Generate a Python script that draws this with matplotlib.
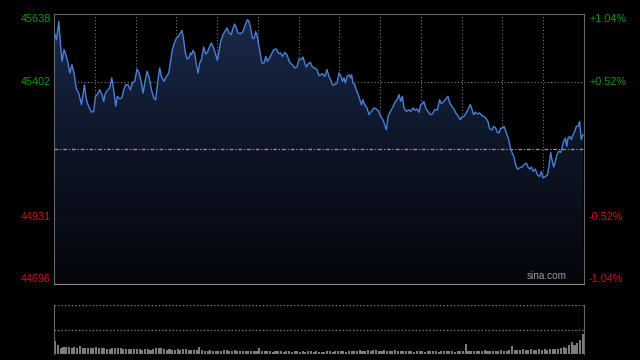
import numpy as np
import matplotlib
matplotlib.use("Agg")
import matplotlib.pyplot as plt
from matplotlib.patches import Polygon
from matplotlib.colors import LinearSegmentedColormap
from matplotlib.transforms import blended_transform_factory

plt.rcParams['font.family'] = ['Liberation Sans', 'DejaVu Sans']

# intraday index, minutes after open (390 min session)
minutes = [0.3, 1.8, 3.5, 4.9, 5.9, 7.4, 9.1, 10.3, 11.6, 13.2, 14.7, 16.5, 18.2, 20.2, 22.4, 23.8, 25.5, 27.5,
           29.2, 30.5, 31.9, 33.6, 35.3, 36.6, 37.8, 39.7, 41.0, 42.5, 43.9, 45.4, 46.6, 48.3, 50.0, 51.3, 52.8,
           54.4, 56.2, 57.7, 59.4, 61.1, 62.5, 64.3, 65.5, 67.3, 68.4, 69.9, 71.7, 73.4, 74.8, 76.5, 77.8, 79.0,
           80.9, 82.7, 84.4, 85.6, 87.1, 88.6, 90.1, 91.5, 93.0, 94.2, 95.4, 96.7, 97.9, 99.3, 100.4, 101.3,
           102.3, 103.5, 104.8, 106.0, 107.2, 108.5, 110.1, 111.6, 112.9, 114.1, 115.8, 117.5, 119.0, 120.2,
           121.4, 122.7, 124.4, 126.1, 127.3, 128.8, 130.5, 131.7, 133.0, 134.2, 135.4, 137.2, 139.1, 140.8,
           142.3, 143.5, 144.7, 146.0, 147.2, 148.4, 149.7, 150.6, 151.9, 153.0, 154.5, 155.8, 157.0, 158.7,
           160.4, 161.9, 163.6, 165.3, 166.8, 168.1, 169.8, 171.4, 173.4, 175.4, 177.1, 178.8, 180.3, 182.0,
           183.2, 184.5, 185.7, 187.2, 188.7, 190.1, 191.8, 193.5, 195.0, 196.2, 197.5, 199.2, 200.9, 202.3,
           203.6, 204.8, 206.5, 208.2, 209.7, 211.0, 212.2, 213.4, 214.4, 215.6, 217.1, 218.3, 219.0, 220.0,
           221.3, 222.5, 223.7, 224.9, 226.2, 227.4, 228.6, 230.3, 231.8, 233.5, 235.5, 237.2, 238.9, 240.4,
           242.1, 243.3, 244.6, 245.8, 247.5, 249.0, 250.7, 252.4, 253.9, 255.1, 256.4, 257.5, 259.3, 261.0,
           262.5, 264.2, 265.6, 267.1, 268.6, 269.8, 271.1, 272.2, 273.5, 275.2, 277.0, 278.4, 280.1, 282.1,
           283.8, 285.0, 286.2, 288.0, 289.9, 291.2, 292.8, 294.3, 295.6, 297.3, 299.0, 300.2, 301.7, 303.4,
           305.1, 306.4, 307.6, 308.8, 310.1, 311.5, 313.2, 314.9, 316.4, 318.2, 319.3, 320.6, 322.3, 323.7,
           325.0, 326.2, 327.4, 328.7, 329.9, 331.1, 332.1, 333.3, 334.6, 335.8, 337.3, 338.5, 339.7, 341.0,
           342.7, 344.4, 345.8, 347.6, 348.8, 350.0, 351.3, 352.7, 354.2, 355.7, 357.4, 358.6, 359.8, 361.6,
           363.1, 364.2, 365.5, 366.4, 367.7, 368.9, 370.1, 371.3, 372.8, 374.1, 375.0, 376.3, 377.3, 378.2,
           379.5, 380.7, 381.9, 383.1, 384.4, 385.6, 386.8, 388.0, 389.2]

prices = [45572, 45548, 45612, 45525, 45473, 45514, 45490, 45467, 45432, 45461, 45432, 45376, 45362, 45322, 45391,
          45339, 45316, 45296, 45298, 45351, 45357, 45374, 45357, 45333, 45362, 45374, 45380, 45415, 45374, 45316,
          45351, 45342, 45345, 45374, 45391, 45391, 45374, 45397, 45403, 45446, 45434, 45399, 45362, 45409, 45438,
          45420, 45374, 45345, 45339, 45409, 45450, 45420, 45403, 45420, 45432, 45467, 45514, 45537, 45554, 45560,
          45572, 45581, 45548, 45502, 45481, 45485, 45502, 45496, 45511, 45502, 45461, 45432, 45467, 45479, 45523,
          45499, 45504, 45519, 45537, 45519, 45496, 45476, 45508, 45543, 45566, 45580, 45589, 45572, 45566, 45589,
          45603, 45589, 45572, 45569, 45577, 45601, 45618, 45612, 45589, 45554, 45552, 45577, 45558, 45531, 45496,
          45467, 45467, 45490, 45473, 45485, 45502, 45514, 45516, 45500, 45502, 45490, 45504, 45496, 45469, 45461,
          45450, 45453, 45481, 45479, 45488, 45467, 45453, 45465, 45469, 45453, 45450, 45444, 45423, 45426, 45430,
          45420, 45444, 45420, 45409, 45391, 45391, 45397, 45432, 45423, 45403, 45415, 45397, 45420, 45426, 45415,
          45426, 45397, 45391, 45372, 45360, 45342, 45322, 45339, 45322, 45310, 45287, 45298, 45310, 45307, 45298,
          45281, 45269, 45252, 45234, 45281, 45298, 45310, 45328, 45339, 45357, 45333, 45351, 45310, 45298, 45304,
          45298, 45310, 45302, 45307, 45295, 45322, 45325, 45333, 45310, 45298, 45287, 45289, 45304, 45304, 45339,
          45325, 45330, 45339, 45351, 45328, 45316, 45307, 45293, 45283, 45269, 45279, 45281, 45293, 45310, 45322,
          45304, 45287, 45296, 45289, 45293, 45283, 45281, 45272, 45263, 45237, 45234, 45246, 45240, 45225, 45223,
          45240, 45240, 45246, 45234, 45217, 45200, 45171, 45151, 45139, 45112, 45097, 45101, 45104, 45112, 45118,
          45104, 45097, 45104, 45089, 45097, 45077, 45071, 45089, 45066, 45071, 45077, 45106, 45155, 45130, 45104,
          45124, 45147, 45159, 45155, 45176, 45194, 45205, 45176, 45205, 45211, 45200, 45217, 45228, 45246, 45246,
          45263, 45200, 45217]

# volume per 2-minute bar
volume = [13, 9, 6, 7, 7.5, 7, 6, 7, 6.5, 8,
          6, 6.5, 6, 6, 6.5, 7, 6, 6.5, 6, 5.5,
          5, 6, 6, 6.5, 6, 5, 5.5, 5, 5.5, 5,
          5.5, 5, 4.5, 5, 5, 4.5, 5.5, 6.5, 6, 6.5,
          5, 4.5, 5, 4, 4.5, 5, 4.5, 5, 5, 4.5,
          4.5, 4, 4.5, 7.5, 4, 3.5, 3, 4, 3.5, 3,
          3.5, 3.5, 4, 4, 3.5, 3.5, 4, 3.5, 3, 3.5,
          3.5, 3, 3.5, 3, 3.5, 6.5, 3.5, 3, 3.5, 3,
          2.5, 3, 3.5, 3, 2.5, 3.5, 3, 2.5, 3, 3.5,
          2.5, 3, 2.5, 3.5, 3, 2.5, 3, 2.5, 2.5, 2.5,
          3, 3, 2.5, 3, 3.5, 3, 3, 2.5, 3, 3.5,
          3, 3.5, 4, 3.5, 3, 4, 3.5, 4, 4.5, 3.5,
          3, 4, 3.5, 3, 3.5, 4, 3, 3.5, 3, 3.5,
          3, 3, 2.5, 3, 3.5, 3, 2.5, 3, 3, 3.5,
          3, 2.5, 3, 3, 3.5, 3, 3, 2.5, 3, 3.5,
          3, 10, 3, 3.5, 3, 3, 3.5, 3, 4, 3.5,
          3, 3.5, 3, 3.5, 4, 3, 3.5, 4, 8.5, 4,
          4.5, 4, 5, 4, 4.5, 5, 4, 4.5, 5, 4,
          5, 4.5, 5, 5.5, 5, 5, 6, 7, 6, 9,
          12.5, 9, 11, 14, 20]

prev_close = 45167
y_lo, y_hi = 44696, 45638
price_ticks = [45638, 45402, 44931, 44696]
pct_labels = ['+1.04%', '+0.52%', '-0.52%', '-1.04%']

assert len(minutes) == len(prices)

UP = '#0c9c0c'
DOWN = '#d81010'
GRID = '#7a7a7a'
FRAME = '#666666'

fig = plt.figure(figsize=(6.4, 3.6), dpi=100, facecolor='black')
ax = fig.add_axes([54 / 640, 1 - 284 / 360, 530 / 640, 270 / 360], facecolor='black')
axv = fig.add_axes([54 / 640, 1 - 354 / 360, 530 / 640, 49 / 360], facecolor='black')

ax.set_xlim(0, 390)
ax.set_ylim(y_lo, y_hi)

# grid: every half hour, plus the price levels
for m in range(30, 390, 30):
    ax.axvline(m, color=GRID, lw=0.8, ls=(0, (1, 2)), zorder=0.5)
for p in [45402, 44931]:
    ax.axhline(p, color=GRID, lw=0.8, ls=(0, (1, 2)), zorder=0.5)
ax.axhline(prev_close, color='#9a9a9a', lw=0.9, ls=(0, (3, 1.5, 1, 1.5)), zorder=2.5)

# gradient area under the line
verts = [(minutes[0], y_lo)] + list(zip(minutes, prices)) + [(minutes[-1], y_lo)]
poly = Polygon(verts, closed=True, facecolor='none', edgecolor='none')
ax.add_patch(poly)
cmap = LinearSegmentedColormap.from_list('fill', ['#04060b', '#0d1526', '#1a2a4a'])
grad = np.linspace(1, 0, 256).reshape(-1, 1)
im = ax.imshow(grad, extent=[0, 390, y_lo, y_hi], aspect='auto', cmap=cmap,
               origin='upper', zorder=1, interpolation='bicubic')
im.set_clip_path(poly)

ax.plot(minutes, prices, color='#4a80d8', lw=1.0, zorder=3)

ax.set_xticks([])
ax.set_yticks([])
for side in ['top', 'left', 'right']:
    ax.spines[side].set_color(FRAME)
ax.spines['bottom'].set_color('#8a8a8a')

# axis labels left (price) and right (percent)
left_tr = blended_transform_factory(fig.transFigure, ax.transData)
for p, lab in zip(price_ticks, pct_labels):
    col = UP if p > prev_close else DOWN
    if p == y_hi:
        va = 'top'
    elif p == y_lo:
        va = 'bottom'
    else:
        va = 'center'
    ax.text(51 / 640, p, str(p), transform=left_tr, ha='right', va=va,
            color=col, fontsize=7.8)
    ax.text(589 / 640, p, lab, transform=left_tr, ha='left', va=va,
            color=col, fontsize=7.8)

ax.text(0.968, 0.012, 'sina.com', transform=ax.transAxes, ha='right', va='bottom',
        color='#9a9a9a', fontsize=7.2)

# volume panel
axv.set_xlim(0, 390)
axv.set_ylim(0, 49)
bar_x = np.arange(len(volume)) * 2 + 1
axv.bar(bar_x, volume, width=1.5, color='#7c7c7c', linewidth=0)
axv.axhline(49, color=GRID, lw=1.0, ls=(0, (1, 1.5)))
axv.axhline(24.5, color=GRID, lw=1.0, ls=(0, (1, 1.5)))
axv.set_xticks([])
axv.set_yticks([])
for side in ['top', 'bottom']:
    axv.spines[side].set_visible(False)
axv.spines['left'].set_color(FRAME)
axv.spines['right'].set_color(FRAME)

fig.savefig('out.png', dpi=100, facecolor='black')
